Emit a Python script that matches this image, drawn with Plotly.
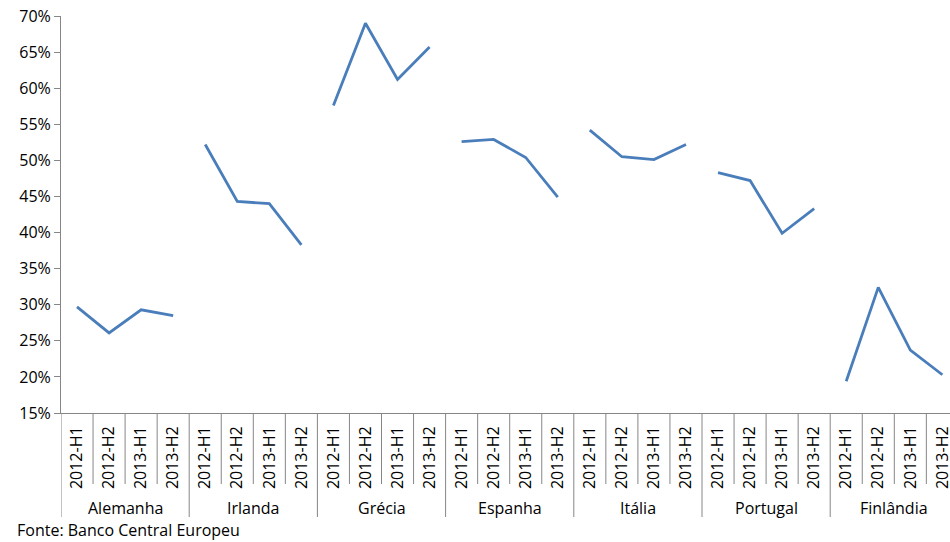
import plotly.graph_objects as go

countries = ["Alemanha", "Irlanda", "Grécia", "Espanha", "Itália", "Portugal", "Finlândia"]
periods = ["2012-H1", "2012-H2", "2013-H1", "2013-H2"]
alemanha = [29.7, 26.1, 29.3, 28.5]
irlanda = [52.2, 44.3, 44.0, 38.3]
grecia = [57.6, 69.0, 61.2, 65.7]
espanha = [52.6, 52.9, 50.4, 44.9]
italia = [54.2, 50.5, 50.1, 52.2]
portugal = [48.3, 47.2, 39.9, 43.3]
finlandia = [19.4, 32.4, 23.7, 20.3]
series = [alemanha, irlanda, grecia, espanha, italia, portugal, finlandia]
source = "Fonte: Banco Central Europeu"

FONT = "Open Sans"
AX = "#868686"
W, H = 950, 542
ML, MT, MB, MR = 61, 16, 129, 0
PH = H - MT - MB

n = len(periods)
xs, ys = [], []
for ci, vals in enumerate(series):
    for pi, v in enumerate(vals):
        xs.append(ci * n + pi)
        ys.append(v)
    xs.append(None)
    ys.append(None)

tickvals = list(range(len(countries) * n))
ticktext = periods * len(countries)

fig = go.Figure()
fig.add_trace(go.Scatter(x=xs, y=ys, mode="lines", connectgaps=False,
                         line=dict(color="#4A7EBB", width=2.8), hoverinfo="skip"))

shapes = []
for k in range(len(countries) * n):
    depth = 104 if k % n == 0 else 71
    shapes.append(dict(type="line", xref="x", yref="paper", x0=k - 0.5, x1=k - 0.5,
                       y0=0, y1=-depth / PH, line=dict(color=AX, width=1)))

annotations = []
for ci, c in enumerate(countries):
    annotations.append(dict(x=ci * n + (n - 1) / 2, y=-(508 - 413) / PH, xref="x", yref="paper",
                            text=c, showarrow=False, xanchor="center", yanchor="middle",
                            font=dict(family=FONT, size=16, color="#000")))
annotations.append(dict(x=(15 - ML) / (W - ML - MR), y=-(530 - 413) / PH, xref="paper", yref="paper",
                        text=source, showarrow=False, xanchor="left", yanchor="middle",
                        font=dict(family=FONT, size=16, color="#000")))

cw = 32.05
xmax = (W - ML - MR) / cw - 0.5

fig.update_layout(
    width=W, height=H, margin=dict(l=ML, r=MR, t=MT, b=MB, autoexpand=False),
    paper_bgcolor="white", plot_bgcolor="white", showlegend=False,
    shapes=shapes, annotations=annotations,
    xaxis=dict(range=[-0.5, xmax], tickvals=tickvals, ticktext=ticktext, tickangle=-90,
               automargin=False, ticklabeloverflow="allow",
               showgrid=False, zeroline=False, showline=True, linecolor=AX, linewidth=1,
               ticks="outside", ticklen=6, tickcolor="rgba(0,0,0,0)",
               tickfont=dict(family=FONT, size=16, color="#000")),
    yaxis=dict(range=[15, 70], dtick=5, tick0=15, ticksuffix="%", showgrid=False, zeroline=False,
               automargin=False,
               showline=True, linecolor=AX, linewidth=1, ticks="outside", ticklen=6, tickcolor=AX,
               tickfont=dict(family=FONT, size=16, color="#000")),
)

fig.write_html("out.html", config={"displayModeBar": False},
               post_script="document.body.style.margin='0';document.body.style.overflow='hidden';")
